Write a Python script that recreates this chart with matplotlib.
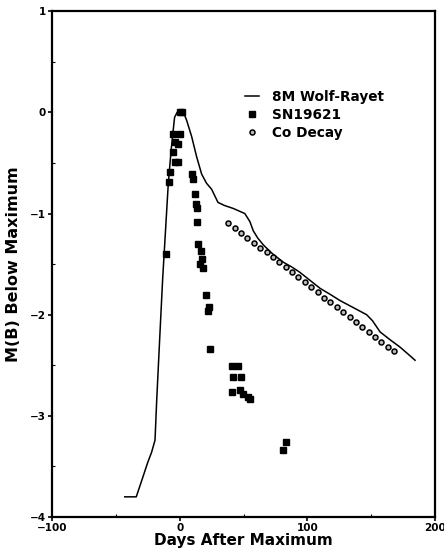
import matplotlib
matplotlib.use("Agg")
import matplotlib.pyplot as plt
from matplotlib.ticker import MultipleLocator

# modelo 8M Wolf-Rayet
wr_dias = [-43, -34, -30, -25, -22, -19.3, -18, -15.5, -13.3, -11, -8.9, -6.5, -4, -2, 3,
           5.5, 9.4, 13.3, 17.2, 21, 25, 30, 35, 42, 51, 55, 57.6, 61, 65.5, 72, 81, 88,
           94, 102, 110, 118, 125.5, 136, 146.4, 151, 156.9, 165, 172.5, 178, 184.3]
wr_mag = [-3.80, -3.80, -3.65, -3.46, -3.36, -3.24, -2.85, -2.20, -1.64, -1.15, -0.70, -0.35,
          -0.05, 0.0, 0.0, -0.08, -0.24, -0.44, -0.61, -0.70, -0.76, -0.89, -0.92, -0.95,
          -1.00, -1.08, -1.17, -1.24, -1.31, -1.39, -1.48, -1.53, -1.58, -1.66, -1.74, -1.80,
          -1.86, -1.93, -2.00, -2.06, -2.17, -2.25, -2.32, -2.38, -2.45]

# observaciones SN1962I
sn_dias = [0, 2, -5, 0, -3.7, -1, -5, -3.7, -1, -7.6, -8.5, 9.4, 10.2, 12, 12.8, 13.3, 13.8,
           14.6, 16.5, 17.2, 16, 18, -10.7, 20.6, 23.2, 22.4, 23.7, 40.7, 45.9, 42, 48, 41.2,
           47.2, 49.8, 53.7, 55, 83.2, 80.6]
sn_mag = [0.0, 0.0, -0.21, -0.21, -0.29, -0.31, -0.39, -0.49, -0.49, -0.59, -0.69, -0.61,
          -0.66, -0.81, -0.91, -0.95, -1.08, -1.30, -1.37, -1.45, -1.50, -1.54, -1.40, -1.81,
          -1.92, -1.96, -2.34, -2.51, -2.51, -2.62, -2.62, -2.76, -2.74, -2.78, -2.81, -2.83,
          -3.26, -3.34]

# decaimiento del Co
co_dias = [38, 43, 48, 53, 58, 63, 68, 73, 78, 83, 88, 93, 98, 103, 108, 113, 118, 123, 128,
           133, 138, 143, 148, 153, 158, 163, 168]
co_mag = [-1.09, -1.14, -1.19, -1.24, -1.29, -1.34, -1.38, -1.43, -1.48, -1.53, -1.58, -1.63,
          -1.68, -1.73, -1.78, -1.83, -1.87, -1.92, -1.97, -2.02, -2.07, -2.12, -2.17, -2.22,
          -2.27, -2.32, -2.36]

plt.rcParams['font.family'] = 'DejaVu Sans'
plt.rcParams['font.weight'] = 'bold'

fig = plt.figure(figsize=(4.44, 5.59), dpi=100)
ax = fig.add_axes([0.117, 0.075, 0.863, 0.905])

ax.plot(wr_dias, wr_mag, color='black', linewidth=1.1, label='8M Wolf-Rayet')
ax.plot(sn_dias, sn_mag, linestyle='none', marker='s', markersize=5, color='black', label='SN19621')
ax.plot(co_dias, co_mag, linestyle='none', marker='o', markersize=3.6, markerfacecolor='#bbbbbb',
        markeredgecolor='black', markeredgewidth=1.1, label='Co Decay')

ax.set_xlim(-100, 200)
ax.set_ylim(-4, 1)
ax.xaxis.set_major_locator(MultipleLocator(100))
ax.yaxis.set_major_locator(MultipleLocator(1))
ax.xaxis.set_minor_locator(MultipleLocator(50))
ax.yaxis.set_minor_locator(MultipleLocator(0.5))
ax.tick_params(which='major', direction='out', length=3, width=1.2, labelsize=7.5, pad=1.5)
ax.tick_params(which='minor', direction='in', length=2, width=0.8)
for lab in ax.get_xticklabels() + ax.get_yticklabels():
    lab.set_fontweight('bold')
for s in ax.spines.values():
    s.set_linewidth(1.6)

ax.set_xlabel("Days After Maximum", fontsize=11, fontweight='bold', labelpad=0)
ax.set_ylabel("M(B) Below Maximum", fontsize=11.5, fontweight='bold', labelpad=6)

ax.legend(loc='upper left', bbox_to_anchor=(0.49, 0.855), frameon=False,
          handlelength=1.0, handletextpad=1.0, labelspacing=0.3, borderaxespad=0,
          prop={'weight': 'bold', 'size': 9.8})

fig.savefig("out.png", dpi=100)
plt.close()
